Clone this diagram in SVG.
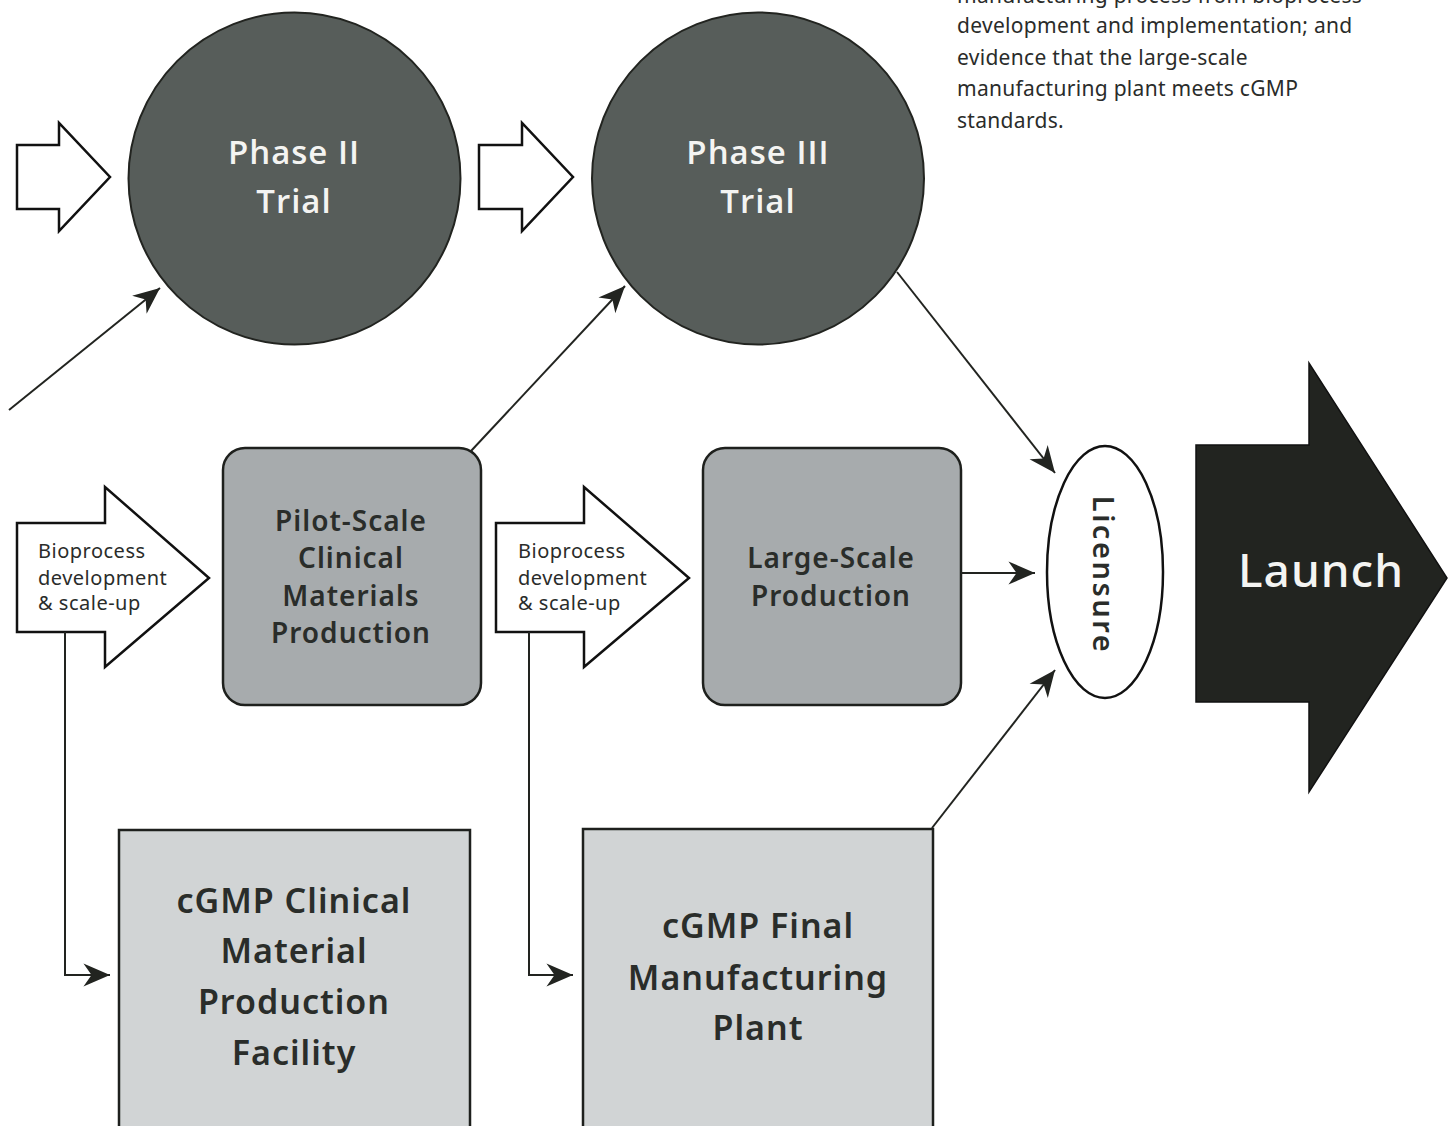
<svg xmlns="http://www.w3.org/2000/svg" width="1448" height="1126" viewBox="0 0 1448 1126">
<style>
text{font-family:"Noto Sans","Open Sans","DejaVu Sans",sans-serif}
.note{font-size:21px;fill:#2a2c2a;letter-spacing:0.3px}
.circle{fill:#575d5a;stroke:#222420;stroke-width:2}
.ctext{font-family:"Open Sans","Noto Sans",sans-serif;font-size:33px;font-weight:600;fill:#f4f4f2;letter-spacing:1px;text-anchor:middle}
.outline{fill:#fff;stroke:#111;stroke-width:2.5}
.small{font-size:20px;fill:#2a2c2a;letter-spacing:0.5px}
.rbox{fill:#a7abad;stroke:#1e201d;stroke-width:2.5}
.btext{font-size:28px;font-weight:600;fill:#2a2d2a;letter-spacing:1px;text-anchor:middle}
.lbox{fill:#d1d4d5;stroke:#1e201d;stroke-width:2.5}
.ltext{font-size:34px;font-weight:600;fill:#2a2d2a;letter-spacing:1px;text-anchor:middle}
.conn{fill:none;stroke:#222420;stroke-width:2}
</style>
<defs>
<marker id="ah" markerUnits="userSpaceOnUse" markerWidth="30" markerHeight="30" viewBox="-24 -12 26 24" refX="0" refY="0" orient="auto">
<path d="M0,0 L-23,-10 L-16,0 L-23,10 Z" fill="#222420"/>
</marker>
</defs>
<rect width="1448" height="1126" fill="#ffffff"/>

<g id="note">
<text class="note" x="957" y="3">manufacturing process from bioprocess</text>
<text class="note" x="957" y="33">development and implementation; and</text>
<text class="note" x="957" y="65">evidence that the large-scale</text>
<text class="note" x="957" y="96">manufacturing plant meets cGMP</text>
<text class="note" x="957" y="128">standards.</text>
</g>

<g id="arrow-in-1">
<path class="outline" d="M17,145 L59,145 L59,123 L110,177 L59,231 L59,209 L17,209 Z"/>
</g>
<g id="arrow-in-2">
<path class="outline" d="M479,145 L522,145 L522,123 L573,177 L522,231 L522,209 L479,209 Z"/>
</g>

<g id="phase2">
<circle class="circle" cx="294.5" cy="178.5" r="166"/>
<text class="ctext" x="294" y="164">Phase II</text>
<text class="ctext" x="294" y="213">Trial</text>
</g>
<g id="phase3">
<circle class="circle" cx="758" cy="178.5" r="166"/>
<text class="ctext" x="758" y="164">Phase III</text>
<text class="ctext" x="758" y="213">Trial</text>
</g>

<g id="bioprocess-1">
<path class="outline" d="M17,523 L105,523 L105,487 L209,578 L105,667 L105,632 L17,632 Z"/>
<text class="small" x="38" y="558">Bioprocess</text>
<text class="small" x="38" y="585">development</text>
<text class="small" x="38" y="610">&amp; scale-up</text>
</g>
<g id="bioprocess-2">
<path class="outline" d="M496,523 L584,523 L584,487 L689,578 L584,667 L584,632 L496,632 Z"/>
<text class="small" x="518" y="558">Bioprocess</text>
<text class="small" x="518" y="585">development</text>
<text class="small" x="518" y="610">&amp; scale-up</text>
</g>

<g id="pilot">
<rect class="rbox" x="223" y="448" width="258" height="257" rx="22"/>
<text class="btext" x="351" y="531">Pilot-Scale</text>
<text class="btext" x="351" y="568">Clinical</text>
<text class="btext" x="351" y="606">Materials</text>
<text class="btext" x="351" y="643">Production</text>
</g>
<g id="large-scale">
<rect class="rbox" x="703" y="448" width="258" height="257" rx="22"/>
<text class="btext" x="831" y="568">Large-Scale</text>
<text class="btext" x="831" y="606">Production</text>
</g>

<g id="licensure">
<ellipse cx="1105" cy="572" rx="58" ry="126" fill="#fff" stroke="#111" stroke-width="2.5"/>
<text transform="translate(1093,575) rotate(90)" font-size="29" font-weight="600" fill="#2a2d2a" letter-spacing="2.5" text-anchor="middle">Licensure</text>
</g>

<g id="launch">
<path d="M1196,445 L1309,445 L1309,363 L1447,578 L1309,792 L1309,702 L1196,702 Z" fill="#222420" stroke="#111" stroke-width="1.5"/>
<text x="1321" y="587" font-size="46" font-weight="500" fill="#f4f4f2" letter-spacing="1" text-anchor="middle">Launch</text>
</g>

<g id="cgmp-clinical">
<rect class="lbox" x="119" y="830" width="351" height="310"/>
<text class="ltext" x="294" y="913">cGMP Clinical</text>
<text class="ltext" x="294" y="963">Material</text>
<text class="ltext" x="294" y="1014">Production</text>
<text class="ltext" x="294" y="1065">Facility</text>
</g>
<g id="cgmp-final">
<rect class="lbox" x="583" y="829" width="350" height="310"/>
<text class="ltext" x="758" y="938">cGMP Final</text>
<text class="ltext" x="758" y="990">Manufacturing</text>
<text class="ltext" x="758" y="1040">Plant</text>
</g>

<g id="connectors">
<path class="conn" d="M9,410 L160,288" marker-end="url(#ah)"/>
<path class="conn" d="M471,451 L625,286" marker-end="url(#ah)"/>
<path class="conn" d="M897,272 L1055,473" marker-end="url(#ah)"/>
<path class="conn" d="M961,573 L1035,573" marker-end="url(#ah)"/>
<path class="conn" d="M932,828 L1055,670" marker-end="url(#ah)"/>
<path class="conn" d="M65,632 L65,975 L110,975" marker-end="url(#ah)"/>
<path class="conn" d="M529,632 L529,975 L573,975" marker-end="url(#ah)"/>
</g>
</svg>
